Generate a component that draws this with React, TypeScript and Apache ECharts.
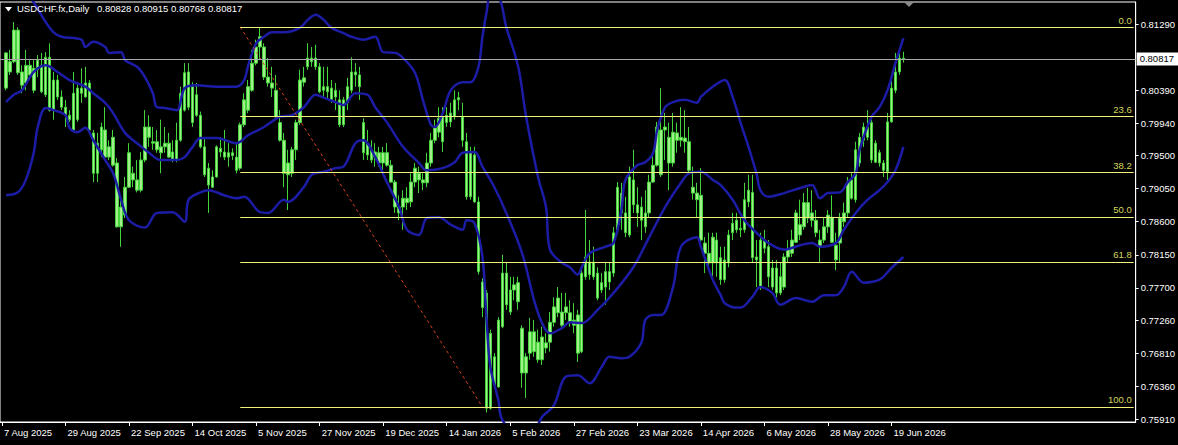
import { useEffect, useRef } from "react";
import * as echarts from "echarts";

const symbolName = "USDCHF.fx,Daily";

// Daily OHLC bars
const barOpen = [
  0.8090, 0.8064, 0.8078, 0.8121, 0.8064, 0.8049, 0.8060, 0.8069, 0.8067, 0.8073,
  0.8033, 0.8084, 0.8053, 0.8030, 0.8030, 0.8016, 0.8005, 0.7985, 0.7999, 0.8035,
  0.8030, 0.8049, 0.7981, 0.7967, 0.7958, 0.7985, 0.7962, 0.7937, 0.7940, 0.7880,
  0.7869, 0.7907, 0.7926, 0.7917, 0.7903, 0.7944, 0.7975, 0.7969, 0.7969, 0.7962,
  0.7962, 0.7967, 0.7955, 0.7944, 0.7971, 0.8012, 0.8064, 0.8044, 0.8005, 0.8005,
  0.7962, 0.7933, 0.7921, 0.7921, 0.7960, 0.7955, 0.7948, 0.7954, 0.7948, 0.7933,
  0.7992, 0.8012, 0.8039, 0.8076, 0.8098, 0.8098, 0.8057, 0.8049, 0.8039, 0.7995,
  0.7971, 0.7940, 0.7926, 0.7958, 0.7995, 0.8050, 0.8071, 0.8083, 0.8083, 0.8071,
  0.8044, 0.8037, 0.8042, 0.8030, 0.8026, 0.7992, 0.8022, 0.8039, 0.8064, 0.8060,
  0.7995, 0.7967, 0.7958, 0.7948, 0.7954, 0.7940, 0.7954, 0.7937, 0.7914, 0.7880,
  0.7880, 0.7886, 0.7887, 0.7914, 0.7926, 0.7917, 0.7913, 0.7940, 0.7971, 0.7982,
  0.8003, 0.7995, 0.7996, 0.8003, 0.8026, 0.8003, 0.7969, 0.7894, 0.7951, 0.7887,
  0.7778, 0.7763, 0.7606, 0.7676, 0.7635, 0.7717, 0.7747, 0.7767, 0.7767, 0.7777,
  0.7715, 0.7676, 0.7681, 0.7710, 0.7696, 0.7672, 0.7695, 0.7696, 0.7723, 0.7736,
  0.7737, 0.7736, 0.7736, 0.7726, 0.7733, 0.7683, 0.7785, 0.7805, 0.7785, 0.7790,
  0.7767, 0.7771, 0.7778, 0.7790, 0.7849, 0.7899, 0.7872, 0.7842, 0.7883, 0.7883,
  0.7880, 0.7872, 0.7872, 0.7914, 0.7937, 0.7985, 0.7985, 0.7975, 0.7940, 0.7981,
  0.7975, 0.7974, 0.7969, 0.7907, 0.7899, 0.7896, 0.7831, 0.7817, 0.7804, 0.7835,
  0.7811, 0.7781, 0.7804, 0.7845, 0.7849, 0.7851, 0.7849, 0.7887, 0.7900, 0.7812,
  0.7835, 0.7824, 0.7826, 0.7797, 0.7797, 0.7785, 0.7771, 0.7812, 0.7817, 0.7832,
  0.7856, 0.7853, 0.7865, 0.7872, 0.7862, 0.7835, 0.7835, 0.7853, 0.7866, 0.7828,
  0.7831, 0.7860, 0.7872, 0.7892, 0.7890, 0.7940, 0.7971, 0.7989, 0.7995, 0.7967,
  0.7954, 0.7940, 0.7928, 0.7996, 0.8039, 0.8064, 0.80828,
];
const barClose = [
  0.8042, 0.8078, 0.8121, 0.8063, 0.8046, 0.8073, 0.8073, 0.8039, 0.8080, 0.8037,
  0.8084, 0.8012, 0.8012, 0.8053, 0.8016, 0.8005, 0.7999, 0.8035, 0.8042, 0.8042,
  0.8049, 0.7985, 0.7926, 0.7926, 0.7989, 0.7948, 0.7948, 0.7975, 0.7853, 0.7853,
  0.7907, 0.7954, 0.7917, 0.7903, 0.7944, 0.7989, 0.7989, 0.7967, 0.7958, 0.7954,
  0.7967, 0.7948, 0.7944, 0.7971, 0.8035, 0.8063, 0.8016, 0.7995, 0.8033, 0.7962,
  0.7924, 0.7910, 0.7907, 0.7962, 0.7955, 0.7948, 0.7954, 0.7950, 0.7930, 0.7992,
  0.8026, 0.8044, 0.8076, 0.8098, 0.8112, 0.8057, 0.8049, 0.8042, 0.8003, 0.7971,
  0.7926, 0.7924, 0.7958, 0.7995, 0.8053, 0.8056, 0.8083, 0.8078, 0.8071, 0.8037,
  0.8039, 0.8044, 0.8026, 0.8039, 0.7992, 0.8026, 0.8044, 0.8064, 0.8060, 0.8044,
  0.7954, 0.7951, 0.7944, 0.7955, 0.7940, 0.7954, 0.7937, 0.7914, 0.7880, 0.7872,
  0.7892, 0.7892, 0.7914, 0.7933, 0.7917, 0.7913, 0.7940, 0.7971, 0.7988, 0.8001,
  0.7969, 0.8005, 0.8008, 0.8026, 0.8029, 0.7971, 0.7894, 0.7954, 0.7887, 0.7792,
  0.7743, 0.7606, 0.7708, 0.7638, 0.7726, 0.7790, 0.7790, 0.7737, 0.7774, 0.7751,
  0.7654, 0.7654, 0.7710, 0.7683, 0.7672, 0.7703, 0.7688, 0.7723, 0.7744, 0.7756,
  0.7719, 0.7744, 0.7723, 0.7719, 0.7681, 0.7790, 0.7812, 0.7788, 0.7805, 0.7756,
  0.7777, 0.7792, 0.7792, 0.7845, 0.7907, 0.7872, 0.7845, 0.7921, 0.7917, 0.7872,
  0.7862, 0.7853, 0.7914, 0.7937, 0.7989, 0.7924, 0.7989, 0.7940, 0.7982, 0.7971,
  0.7971, 0.7969, 0.7930, 0.7899, 0.7890, 0.7835, 0.7817, 0.7804, 0.7839, 0.7804,
  0.7781, 0.7808, 0.7842, 0.7858, 0.7862, 0.7849, 0.7890, 0.7903, 0.7811, 0.7808,
  0.7770, 0.7835, 0.7785, 0.7771, 0.7763, 0.7763, 0.7812, 0.7822, 0.7835, 0.7872,
  0.7842, 0.7886, 0.7886, 0.7862, 0.7845, 0.7826, 0.7853, 0.7869, 0.7832, 0.7808,
  0.7865, 0.7872, 0.7914, 0.7917, 0.7958, 0.7975, 0.7989, 0.7975, 0.7944, 0.7941,
  0.7940, 0.7930, 0.7996, 0.8042, 0.8064, 0.8083, 0.80817,
];
const barLow = [
  0.8039, 0.8060, 0.8076, 0.8060, 0.8035, 0.8039, 0.8053, 0.8035, 0.8057, 0.8035,
  0.8030, 0.8010, 0.7999, 0.8026, 0.8012, 0.7989, 0.7996, 0.7982, 0.7996, 0.8022,
  0.8029, 0.7982, 0.7914, 0.7914, 0.7948, 0.7947, 0.7944, 0.7935, 0.7852, 0.7826,
  0.7865, 0.7906, 0.7907, 0.7900, 0.7900, 0.7941, 0.7962, 0.7958, 0.7954, 0.7926,
  0.7954, 0.7947, 0.7941, 0.7941, 0.7969, 0.8010, 0.8012, 0.7989, 0.8003, 0.7960,
  0.7921, 0.7872, 0.7906, 0.7920, 0.7948, 0.7944, 0.7935, 0.7944, 0.7926, 0.7930,
  0.7989, 0.8008, 0.8037, 0.8073, 0.8080, 0.8053, 0.8044, 0.8030, 0.8001, 0.7969,
  0.7907, 0.7876, 0.7921, 0.7944, 0.7992, 0.8044, 0.8067, 0.8071, 0.8067, 0.8035,
  0.8030, 0.8026, 0.8022, 0.8012, 0.7989, 0.7989, 0.8012, 0.8035, 0.8044, 0.8026,
  0.7944, 0.7944, 0.7940, 0.7935, 0.7935, 0.7930, 0.7935, 0.7913, 0.7872, 0.7862,
  0.7849, 0.7876, 0.7880, 0.7907, 0.7899, 0.7903, 0.7907, 0.7935, 0.7967, 0.7975,
  0.7955, 0.7989, 0.7989, 0.7999, 0.8012, 0.7962, 0.7890, 0.7890, 0.7886, 0.7788,
  0.7730, 0.7600, 0.7604, 0.7634, 0.7634, 0.7715, 0.7740, 0.7733, 0.7753, 0.7740,
  0.7634, 0.7620, 0.7672, 0.7676, 0.7668, 0.7665, 0.7681, 0.7683, 0.7717, 0.7730,
  0.7713, 0.7726, 0.7717, 0.7708, 0.7669, 0.7681, 0.7781, 0.7781, 0.7781, 0.7753,
  0.7763, 0.7747, 0.7767, 0.7785, 0.7845, 0.7849, 0.7839, 0.7839, 0.7872, 0.7853,
  0.7835, 0.7845, 0.7866, 0.7913, 0.7935, 0.7921, 0.7944, 0.7903, 0.7935, 0.7954,
  0.7962, 0.7954, 0.7926, 0.7890, 0.7866, 0.7831, 0.7790, 0.7794, 0.7785, 0.7785,
  0.7774, 0.7777, 0.7798, 0.7835, 0.7845, 0.7839, 0.7845, 0.7880, 0.7805, 0.7771,
  0.7767, 0.7817, 0.7771, 0.7767, 0.7757, 0.7760, 0.7767, 0.7804, 0.7812, 0.7831,
  0.7835, 0.7849, 0.7858, 0.7853, 0.7839, 0.7805, 0.7831, 0.7845, 0.7831, 0.7794,
  0.7804, 0.7853, 0.7866, 0.7890, 0.7886, 0.7935, 0.7962, 0.7971, 0.7940, 0.7940,
  0.7935, 0.7921, 0.7917, 0.7995, 0.8035, 0.8060, 0.80768,
];
const barHigh = [
  0.8091, 0.8094, 0.8132, 0.8125, 0.8073, 0.8094, 0.8080, 0.8080, 0.8087, 0.8090,
  0.8091, 0.8103, 0.8064, 0.8060, 0.8039, 0.8026, 0.8012, 0.8064, 0.8049, 0.8069,
  0.8071, 0.8053, 0.7985, 0.7981, 0.7995, 0.8016, 0.7971, 0.7985, 0.7947, 0.7890,
  0.7921, 0.7967, 0.7935, 0.7944, 0.7955, 0.8012, 0.8005, 0.7989, 0.7985, 0.7999,
  0.7989, 0.7981, 0.7971, 0.7995, 0.8044, 0.8076, 0.8076, 0.8050, 0.8049, 0.8010,
  0.7975, 0.7940, 0.7930, 0.7964, 0.7975, 0.7985, 0.7967, 0.7960, 0.7967, 0.7995,
  0.8035, 0.8053, 0.8094, 0.8108, 0.8124, 0.8103, 0.8083, 0.8071, 0.8060, 0.8012,
  0.7981, 0.7958, 0.7962, 0.7999, 0.8067, 0.8071, 0.8103, 0.8098, 0.8101, 0.8076,
  0.8071, 0.8071, 0.8053, 0.8049, 0.8039, 0.8030, 0.8056, 0.8084, 0.8076, 0.8071,
  0.8001, 0.7985, 0.7971, 0.7967, 0.7962, 0.7962, 0.7967, 0.7944, 0.7917, 0.7896,
  0.7903, 0.7907, 0.7926, 0.7940, 0.7935, 0.7926, 0.7954, 0.7981, 0.7999, 0.8016,
  0.8016, 0.8016, 0.8022, 0.8039, 0.8037, 0.8022, 0.7981, 0.7962, 0.7962, 0.7894,
  0.7783, 0.7767, 0.7713, 0.7681, 0.7730, 0.7815, 0.7804, 0.7785, 0.7785, 0.7785,
  0.7719, 0.7681, 0.7729, 0.7726, 0.7713, 0.7717, 0.7708, 0.7737, 0.7757, 0.7771,
  0.7763, 0.7763, 0.7753, 0.7749, 0.7740, 0.7794, 0.7876, 0.7835, 0.7826, 0.7798,
  0.7790, 0.7804, 0.7804, 0.7853, 0.7914, 0.7913, 0.7894, 0.7935, 0.7958, 0.7907,
  0.7894, 0.7903, 0.7924, 0.7954, 0.7996, 0.8042, 0.8008, 0.7995, 0.8008, 0.7995,
  0.8016, 0.8012, 0.7989, 0.7935, 0.7913, 0.7933, 0.7839, 0.7845, 0.7845, 0.7845,
  0.7826, 0.7826, 0.7849, 0.7872, 0.7872, 0.7866, 0.7913, 0.7924, 0.7924, 0.7835,
  0.7845, 0.7849, 0.7835, 0.7808, 0.7808, 0.7804, 0.7817, 0.7835, 0.7849, 0.7876,
  0.7890, 0.7899, 0.7906, 0.7903, 0.7876, 0.7849, 0.7866, 0.7876, 0.7896, 0.7845,
  0.7872, 0.7886, 0.7921, 0.7926, 0.7969, 0.7981, 0.7995, 0.8012, 0.7999, 0.7971,
  0.7958, 0.7944, 0.8008, 0.8053, 0.8090, 0.8094, 0.80915,
];

// Bollinger bands: [bar number, price]
const upperBand = [
  [0, 0.8203], [4, 0.8182], [7, 0.8159], [10, 0.8132], [12, 0.8118], [14, 0.8112], [19, 0.8108],
  [20, 0.8098], [22, 0.8105], [25, 0.8098], [26, 0.809], [29, 0.8091], [30, 0.808], [33, 0.8071],
  [35, 0.8057], [37, 0.8035], [38, 0.8016], [40, 0.8015], [43, 0.8012], [45, 0.8042], [48, 0.8046],
  [53, 0.8044], [58, 0.8044], [60, 0.8053], [61, 0.8073], [63, 0.8103], [65, 0.8112], [67, 0.8118],
  [70, 0.8118], [74, 0.8124], [76, 0.8135], [78, 0.8142], [80, 0.8135], [82, 0.8124], [85, 0.8117],
  [87, 0.8112], [90, 0.8108], [93, 0.8112], [95, 0.8091], [98, 0.809], [100, 0.8083], [103, 0.8063],
  [105, 0.8026], [107, 0.7992], [108, 0.7989], [110, 0.8008], [112, 0.8039], [115, 0.805], [117, 0.805],
  [119, 0.8071], [120, 0.8112], [121, 0.8144], [122, 0.8166], [124, 0.8165], [126, 0.8125], [129, 0.8071],
  [131, 0.8003], [134, 0.7921], [136, 0.788], [137, 0.7822], [140, 0.7804], [142, 0.7798], [144, 0.7788],
  [145, 0.7798], [147, 0.7817], [151, 0.7826], [153, 0.7831], [155, 0.7876], [156, 0.7917], [159, 0.7937],
  [161, 0.7941], [163, 0.7954], [164, 0.7985], [166, 0.8016], [168, 0.8023], [171, 0.8026], [174, 0.8022],
  [175, 0.803], [178, 0.8044], [181, 0.8053], [183, 0.803], [185, 0.7995], [187, 0.7962], [189, 0.7926],
  [190, 0.7903], [192, 0.7894], [196, 0.7899], [200, 0.7906], [203, 0.791], [205, 0.7892], [207, 0.7899],
  [210, 0.79], [212, 0.7914], [214, 0.7926], [215, 0.7958], [218, 0.8003], [220, 0.8016], [222, 0.8039],
  [224, 0.8076], [226, 0.811],
];
const middleBand = [
  [0, 0.8023], [2, 0.8033], [4, 0.8039], [7, 0.8064], [10, 0.8073], [13, 0.8064], [16, 0.8053],
  [20, 0.8044], [22, 0.8035], [25, 0.8022], [27, 0.8008], [30, 0.7981], [33, 0.7967], [36, 0.7954],
  [39, 0.7944], [43, 0.7944], [45, 0.7948], [47, 0.7962], [49, 0.7974], [53, 0.7974], [58, 0.7967],
  [61, 0.7978], [65, 0.7989], [69, 0.8003], [72, 0.8005], [75, 0.8016], [78, 0.8033], [80, 0.8029],
  [83, 0.8023], [85, 0.8019], [88, 0.8035], [91, 0.8033], [93, 0.8016], [96, 0.7995], [100, 0.7962],
  [104, 0.794], [106, 0.793], [110, 0.7933], [113, 0.7941], [115, 0.7954], [118, 0.7955], [120, 0.7935],
  [123, 0.7907], [126, 0.7872], [130, 0.7817], [133, 0.7753], [135, 0.7722], [137, 0.7708], [140, 0.7715],
  [142, 0.7723], [145, 0.7722], [149, 0.774], [153, 0.7763], [158, 0.7798], [162, 0.7839], [166, 0.788],
  [170, 0.7913], [172, 0.7926], [175, 0.7928], [178, 0.7917], [180, 0.791], [183, 0.789], [186, 0.7862],
  [189, 0.7845], [192, 0.7831], [196, 0.7822], [200, 0.7828], [203, 0.7831], [205, 0.7826], [209, 0.7831],
  [211, 0.7849], [214, 0.7872], [217, 0.789], [220, 0.7903], [222, 0.7914], [224, 0.793], [226, 0.7962],
];
const lowerBand = [
  [0, 0.7896], [3, 0.79], [5, 0.7917], [7, 0.7954], [8, 0.7989], [10, 0.8015], [12, 0.8012],
  [15, 0.8005], [16, 0.7988], [18, 0.7982], [20, 0.7988], [22, 0.7971], [25, 0.7944], [27, 0.7926],
  [29, 0.789], [31, 0.7862], [35, 0.7852], [38, 0.7872], [42, 0.7873], [45, 0.786], [46, 0.789],
  [49, 0.79], [51, 0.7903], [55, 0.7896], [58, 0.7892], [60, 0.7894], [64, 0.7873], [66, 0.7872],
  [70, 0.789], [71, 0.7887], [75, 0.7907], [77, 0.7924], [80, 0.7928], [83, 0.7933], [85, 0.7935],
  [88, 0.7967], [90, 0.7971], [93, 0.7948], [96, 0.7913], [99, 0.788], [101, 0.7849], [104, 0.7842],
  [106, 0.7865], [109, 0.7866], [112, 0.7856], [115, 0.7849], [116, 0.7862], [118, 0.7858], [120, 0.7812],
  [121, 0.773], [122, 0.7662], [124, 0.7617], [125, 0.759], [130, 0.7563], [133, 0.7574], [135, 0.7594],
  [138, 0.761], [141, 0.7649], [144, 0.7651], [147, 0.764], [150, 0.7662], [152, 0.7676], [155, 0.7674],
  [157, 0.7676], [160, 0.7695], [161, 0.7726], [163, 0.7733], [165, 0.7733], [168, 0.7771], [170, 0.7826],
  [174, 0.7839], [175, 0.7826], [178, 0.7781], [180, 0.776], [181, 0.7749], [184, 0.7743], [185, 0.7743],
  [188, 0.7758], [190, 0.7771], [193, 0.7763], [195, 0.7747], [199, 0.7756], [203, 0.7751], [206, 0.776],
  [209, 0.776], [211, 0.7771], [213, 0.7792], [216, 0.7777], [220, 0.7781], [223, 0.7797], [226, 0.7812],
];

// Axis ticks
const yTickValues = [0.8129, 0.8039, 0.7994, 0.795, 0.7905, 0.786, 0.7815, 0.777, 0.7726, 0.7681, 0.7636, 0.7591];
const xLabelBars = [-1, 15, 31, 47, 63, 79, 95, 111, 127, 143, 159, 175, 191, 207, 223];
const xLabels = [
  "7 Aug 2025", "29 Aug 2025", "22 Sep 2025", "14 Oct 2025", "5 Nov 2025", "27 Nov 2025", "19 Dec 2025",
  "14 Jan 2026", "5 Feb 2026", "27 Feb 2026", "23 Mar 2026", "14 Apr 2026", "6 May 2026", "28 May 2026",
  "19 Jun 2026",
];

// Fibonacci retracement
const fibRatios = [0, 0.236, 0.382, 0.5, 0.618, 1];
const fibLabels = ["0.0", "23.6", "38.2", "50.0", "61.8", "100.0"];
const fibHigh = 0.81252;
const fibLow = 0.76077;
const fibHighBar = 59;
const fibLowBar = 120;

const FONT = "'Liberation Sans', Arial, sans-serif";
const CAT_COUNT = 286;
const Y_MIN = 0.75872;
const Y_MAX = 0.81593;

export default function App() {
  const ref = useRef<HTMLDivElement>(null);

  useEffect(() => {
    document.body.style.margin = "0";
    document.body.style.background = "#000";
    const chart = echarts.init(ref.current as HTMLDivElement, null, { renderer: "svg" });

    const labelByCat: string[] = [];
    for (let k = 0; k < CAT_COUNT; k++) {
      const j = xLabelBars.indexOf(k - 1);
      labelByCat.push(j >= 0 ? xLabels[j] : "");
    }
    const categories = labelByCat.map((_, k) => String(k));
    const showCat = (i: number) => labelByCat[i] !== "";

    const last = barOpen.length - 1;
    const candleData = barOpen.map((o, i) => [i + 1, o, barClose[i], barLow[i], barHigh[i]]);
    const toCat = (arr: number[][]) => arr.map(([b, v]) => [b + 1, v]);

    const bandStyle = { color: "#1c1ca6", width: 2.5 };
    const fibLines = fibRatios.map((r, idx) => {
      const level = fibHigh - r * (fibHigh - fibLow);
      return [
        {
          coord: [fibHighBar + 1, level],
          lineStyle: { color: "#f2f27a", width: 1, type: "solid" },
          label: {
            show: true,
            position: "insideEndTop",
            formatter: fibLabels[idx],
            color: "#d6d65e",
            fontFamily: FONT,
            fontSize: 9.5,
            distance: 2,
          },
        },
        { coord: [CAT_COUNT - 1, level] },
      ];
    });

    const option: any = {
      animation: false,
      backgroundColor: "#000",
      title: [
        {
          text: symbolName,
          left: 17,
          top: 3,
          padding: 0,
          textStyle: { color: "#fff", fontFamily: FONT, fontSize: 9.5, fontWeight: "normal" },
        },
        {
          text: [barOpen[last], barHigh[last], barLow[last], barClose[last]].map((v) => v.toFixed(5)).join(" "),
          left: 97,
          top: 3,
          padding: 0,
          textStyle: { color: "#fff", fontFamily: FONT, fontSize: 9.5, fontWeight: "normal" },
        },
      ],
      graphic: [
        { type: "polygon", shape: { points: [[5, 7], [12, 7], [8.5, 11.5]] }, style: { fill: "#fff" } },
        { type: "polygon", shape: { points: [[904, 2], [914, 2], [909, 7]] }, style: { fill: "#8a8a8a" } },
      ],
      grid: {
        left: -4,
        top: 2,
        width: 1142,
        height: 420,
        show: true,
        borderColor: "#fff",
        borderWidth: 1,
        backgroundColor: "#000",
      },
      xAxis: {
        type: "category",
        data: categories,
        boundaryGap: true,
        axisLine: { show: true, lineStyle: { color: "#fff", width: 1 } },
        axisTick: {
          show: true,
          interval: (i: number) => showCat(i),
          alignWithLabel: true,
          length: 4,
          lineStyle: { color: "#fff" },
        },
        axisLabel: {
          show: true,
          interval: (i: number) => showCat(i),
          formatter: (_v: string, i: number) => labelByCat[i],
          color: "#fff",
          fontFamily: FONT,
          fontSize: 9.5,
          align: "left",
          margin: 5,
          padding: [0, 0, 0, 2],
        },
        splitLine: { show: false },
      },
      yAxis: {
        type: "value",
        position: "right",
        min: Y_MIN,
        max: Y_MAX,
        axisLine: { show: true, lineStyle: { color: "#fff" } },
        axisTick: { show: true, customValues: yTickValues, length: 3, lineStyle: { color: "#fff" } },
        axisLabel: {
          customValues: yTickValues,
          formatter: (v: number) => v.toFixed(5),
          color: "#fff",
          fontFamily: FONT,
          fontSize: 9.5,
          margin: 5,
        },
        splitLine: { show: false },
      },
      series: [
        {
          type: "candlestick",
          data: candleData,
          encode: { x: 0, y: [1, 2, 3, 4] },
          barWidth: 3,
          z: 2,
          itemStyle: {
            color: "#a3ef8c",
            color0: "#a3ef8c",
            borderColor: "#43d33a",
            borderColor0: "#43d33a",
            borderWidth: 1,
          },
        },
        {
          type: "line",
          data: toCat(upperBand),
          smooth: 0.35,
          showSymbol: false,
          symbol: "none",
          lineStyle: bandStyle,
          z: 3,
        },
        {
          type: "line",
          data: toCat(middleBand),
          smooth: 0.35,
          showSymbol: false,
          symbol: "none",
          lineStyle: bandStyle,
          z: 3,
        },
        {
          type: "line",
          data: toCat(lowerBand),
          smooth: 0.35,
          showSymbol: false,
          symbol: "none",
          lineStyle: bandStyle,
          z: 3,
        },
        {
          type: "line",
          data: [
            [fibHighBar + 1, fibHigh],
            [fibLowBar + 1, fibLow],
          ],
          showSymbol: false,
          symbol: "none",
          lineStyle: { color: "#d8401e", width: 1, type: [3, 3] },
          z: 4,
          markLine: {
            silent: true,
            symbol: ["none", "none"],
            precision: 5,
            animation: false,
            data: [
              ...fibLines,
              {
                yAxis: barClose[last],
                lineStyle: { color: "#a8a8a8", width: 1, type: "solid" },
                label: {
                  show: true,
                  position: "end",
                  formatter: barClose[last].toFixed(5),
                  backgroundColor: "#fff",
                  color: "#000",
                  fontFamily: FONT,
                  fontSize: 9.5,
                  padding: [2, 4, 1, 3],
                  distance: 1,
                },
              },
            ],
          },
        },
      ],
    };

    chart.setOption(option);
    return () => chart.dispose();
  }, []);

  return <div ref={ref} style={{ width: 1178, height: 445, background: "#000" }} />;
}
